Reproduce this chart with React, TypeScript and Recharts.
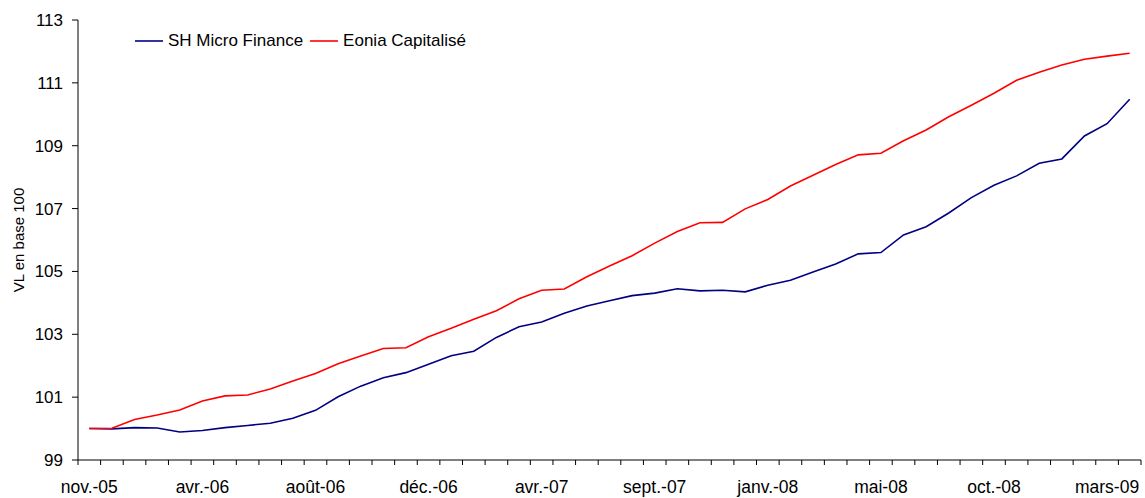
import { LineChart, Line, XAxis, YAxis } from "recharts";

// 47 valuation dates, labelled every 5th point like the source sheet
const dates = [
  "nov.-05", "", "", "", "",
  "avr.-06", "", "", "", "",
  "août-06", "", "", "", "",
  "déc.-06", "", "", "", "",
  "avr.-07", "", "", "", "",
  "sept.-07", "", "", "", "",
  "janv.-08", "", "", "", "",
  "mai-08", "", "", "", "",
  "oct.-08", "", "", "", "",
  "mars-09", "",
];

const shMicroFinance = [
  100.0, 99.99, 100.03, 100.02, 99.89, 99.94, 100.03, 100.1, 100.17, 100.33,
  100.58, 101.01, 101.35, 101.62, 101.78, 102.05, 102.32, 102.46, 102.9, 103.24,
  103.39, 103.67, 103.9, 104.07, 104.23, 104.31, 104.45, 104.38, 104.4, 104.35,
  104.56, 104.72, 104.98, 105.24, 105.56, 105.6, 106.16, 106.42, 106.86, 107.35,
  107.74, 108.04, 108.44, 108.58, 109.31, 109.7, 110.48,
];

const eoniaCapitalise = [
  100.0, 100.01, 100.29, 100.43, 100.59, 100.88, 101.04, 101.07, 101.26, 101.51,
  101.75, 102.06, 102.31, 102.55, 102.57, 102.92, 103.19, 103.48, 103.75, 104.13,
  104.4, 104.44, 104.83, 105.17, 105.5, 105.9, 106.27, 106.55, 106.56, 106.99,
  107.29, 107.72, 108.06, 108.4, 108.71, 108.76, 109.16, 109.5, 109.92, 110.29,
  110.67, 111.08, 111.34, 111.57, 111.75, 111.85, 111.94,
];

const yTicks = [99, 101, 103, 105, 107, 109, 111, 113];

const series = [
  { key: "sh", name: "SH Micro Finance", color: "#000080" },
  { key: "eonia", name: "Eonia Capitalisé", color: "#FF0000" },
];

const data = dates.map((d, i) => ({ date: d, sh: shMicroFinance[i], eonia: eoniaCapitalise[i] }));

const FONT = "'Liberation Sans', Arial, sans-serif";
const HALF_STEP = 1063 / dates.length / 2;

function DateTick(props: any) {
  const { x, y, payload, index } = props;
  const last = index === dates.length - 1;
  return (
    <g>
      <line x1={x - HALF_STEP} x2={x - HALF_STEP} y1={y} y2={y + 5} stroke="#000" />
      {last && <line x1={x + HALF_STEP} x2={x + HALF_STEP} y1={y} y2={y + 5} stroke="#000" />}
      {payload.value && (
        <text x={x} y={y + 33} textAnchor="middle" fontSize={17.5} fill="#000" fontFamily={FONT}>
          {payload.value}
        </text>
      )}
    </g>
  );
}

function AxisTitle(props: any) {
  const { viewBox } = props;
  const cx = 18.5;
  const cy = viewBox.y + viewBox.height / 2;
  return (
    <text x={cx} y={cy} transform={`rotate(-90 ${cx} ${cy})`} textAnchor="middle" dominantBaseline="central" fontSize={15} fontFamily={FONT} fill="#000">
      VL en base 100
    </text>
  );
}

export default function App() {
  return (
    <div style={{ position: "relative", width: 1145, height: 498, background: "#fff", fontFamily: FONT }}>
      <style>{`body{margin:0}`}</style>
      <LineChart width={1145} height={498} data={data} margin={{ top: 20, right: 4, bottom: 0, left: 0 }}>
        <XAxis
          dataKey="date"
          height={38}
          interval={0}
          padding={{ left: HALF_STEP, right: HALF_STEP }}
          tick={<DateTick />}
          tickLine={false}
          tickSize={0}
          tickMargin={0}
          axisLine={{ stroke: "#000" }}
        />
        <YAxis
          width={78}
          domain={[99, 113]}
          ticks={yTicks}
          tickSize={6}
          tickMargin={9}
          tick={{ fontSize: 17, fill: "#000", fontFamily: FONT }}
          tickLine={{ stroke: "#000" }}
          axisLine={{ stroke: "#000" }}
          label={<AxisTitle />}
        />
        {series.map((s) => (
          <Line
            key={s.key}
            type="linear"
            dataKey={s.key}
            name={s.name}
            stroke={s.color}
            strokeWidth={1.6}
            dot={false}
            isAnimationActive={false}
          />
        ))}
      </LineChart>
      {/* Legend */}
      <div style={{ position: "absolute", left: 135, top: 31, display: "flex", alignItems: "center", gap: 7, fontSize: 17, color: "#000" }}>
        {series.map((s) => (
          <div key={s.key} style={{ display: "flex", alignItems: "center", gap: 5 }}>
            <svg width={28} height={4}>
              <line x1={0} x2={28} y1={2} y2={2} stroke={s.color} strokeWidth={1.6} />
            </svg>
            <span>{s.name}</span>
          </div>
        ))}
      </div>
    </div>
  );
}
